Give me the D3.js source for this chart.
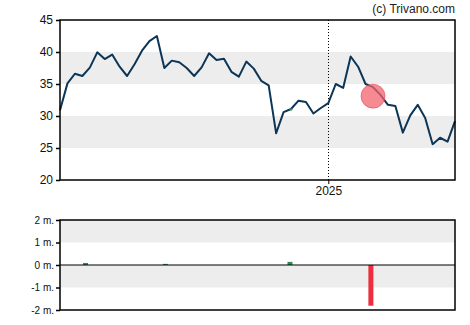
<!DOCTYPE html>
<html><head><meta charset="utf-8">
<script src="https://cdn.jsdelivr.net/npm/d3@7"></script>
<style>body{margin:0;background:#fff}svg{display:block;font-family:"Liberation Sans",Arial,sans-serif}</style>
</head><body><svg id="c" width="470" height="325"></svg>
<script>
const startDate = "2024-04-24";
const prices = [30.9,35.1,36.6,36.25,37.55,39.95,38.9,39.6,37.7,36.25,38.1,40.2,41.7,42.5,37.5,38.65,38.4,37.5,36.25,37.6,39.8,38.75,38.95,36.9,36.15,38.5,37.4,35.5,34.8,27.3,30.6,31.1,32.4,32.2,30.4,31.25,32.0,35.0,34.4,39.3,37.7,35.0,34.5,33.3,31.75,31.55,27.4,30.1,31.75,29.7,25.6,26.6,26.0,29.2];
const priceTicks = [20,25,30,35,40,45];
const priceBands = [[35,40],[25,30]];
const yearMarks = ["2025-01-01"];
const yearLabels = ["2025"];
const markerDate = ["2025-02-12"];
const markerValue = [33.1];
const crossDate = ["2024-11-27"];
const crossValue = [31.0];
const volDates = ["2024-05-18","2024-08-01","2024-11-26","2025-02-10"];
const volValues = [0.09,0.05,0.14,-1.81];
const volTicks = [2,1,0,-1,-2];
const volBands = [[1,2],[-1,0]];

const parse = d3.utcParse("%Y-%m-%d");
const t0 = parse(startDate);
const dates = prices.map((_, i) => d3.utcDay.offset(t0, i * 7));
const svg = d3.select("#c");
const L = 60, R = 455;
const x = d3.scaleUtc().domain([dates[0], dates[dates.length - 1]]).range([L, R]);
const y = d3.scaleLinear().domain([20, 45]).range([180, 20]);
const yv = d3.scaleLinear().domain([-2, 2]).range([310, 220]);

// main bands
svg.append("g").selectAll("rect").data(priceBands).join("rect")
  .attr("x", L).attr("width", R - L)
  .attr("y", d => y(d[1])).attr("height", d => y(d[0]) - y(d[1]))
  .attr("fill", "#ededed");

// year line
svg.append("g").selectAll("line").data(yearMarks).join("line")
  .attr("x1", d => Math.round(x(parse(d))) + 0.5).attr("x2", d => Math.round(x(parse(d))) + 0.5)
  .attr("y1", 20).attr("y2", 180)
  .attr("stroke", "#000").attr("stroke-dasharray", "1,2");

// price line
svg.append("path").datum(prices)
  .attr("fill", "none").attr("stroke", "#0c3556").attr("stroke-width", 2).attr("stroke-linejoin", "round")
  .attr("d", d3.line().x((d, i) => x(dates[i])).y(d => y(d)));

// small green cross
svg.append("g").selectAll("path").data(crossDate).join("path")
  .attr("transform", (d, i) => `translate(${x(parse(d))},${y(crossValue[i])})`)
  .attr("d", "M-1.5,0H1.5M0,-1.5V1.5").attr("stroke", "#3a9a4a").attr("stroke-width", 1);

// marker circle
svg.append("g").selectAll("circle").data(markerDate).join("circle")
  .attr("cx", d => x(parse(d))).attr("cy", (d, i) => y(markerValue[i])).attr("r", 12)
  .attr("fill", "#f2636f").attr("fill-opacity", 0.75).attr("stroke", "#e84a58").attr("stroke-opacity", 0.6);

// frame
svg.append("rect").attr("x", L).attr("y", 20).attr("width", R - L).attr("height", 160)
  .attr("fill", "none").attr("stroke", "#000").attr("stroke-width", 1.5);

// y axis
const ya = svg.append("g").attr("transform", `translate(${L},0)`)
  .call(d3.axisLeft(y).tickValues(priceTicks).tickSize(4).tickPadding(3).tickFormat(d3.format("d")));
ya.select(".domain").remove();
ya.selectAll("line").attr("stroke", "#000").attr("stroke-width", 1.5);
ya.selectAll("text").attr("font-size", 12).attr("fill", "#111").attr("font-family", "Liberation Sans, Arial, sans-serif");

// x axis
const xa = svg.append("g").attr("transform", `translate(0,180)`)
  .call(d3.axisBottom(x).tickValues(yearMarks.map(parse)).tickSize(4).tickPadding(2)
    .tickFormat((d, i) => yearLabels[i]));
xa.select(".domain").remove();
xa.selectAll("line").attr("stroke", "#000");
xa.selectAll("text").attr("font-size", 12).attr("fill", "#111").attr("font-family", "Liberation Sans, Arial, sans-serif");

// copyright
svg.append("text").attr("x", 455).attr("y", 13).attr("text-anchor", "end")
  .attr("font-size", 12).attr("fill", "#222").text("(c) Trivano.com");

// volume bands
svg.append("g").selectAll("rect").data(volBands).join("rect")
  .attr("x", L).attr("width", R - L)
  .attr("y", d => yv(d[1])).attr("height", d => yv(d[0]) - yv(d[1]))
  .attr("fill", "#ededed");

// volume bars
svg.append("g").selectAll("rect").data(volValues).join("rect")
  .attr("x", (d, i) => x(parse(volDates[i])) - 2.5).attr("width", 5)
  .attr("y", d => d >= 0 ? yv(d) : yv(0)).attr("height", d => Math.abs(yv(d) - yv(0)))
  .attr("fill", d => d >= 0 ? "#2e8b4e" : "#ee2e3e");

// zero line
svg.append("line").attr("x1", L).attr("x2", R).attr("y1", yv(0)).attr("y2", yv(0))
  .attr("stroke", "#000").attr("stroke-width", 1.2);

// volume frame
svg.append("rect").attr("x", L).attr("y", 220).attr("width", R - L).attr("height", 90)
  .attr("fill", "none").attr("stroke", "#000").attr("stroke-width", 1.5);

const va = svg.append("g").attr("transform", `translate(${L},0)`)
  .call(d3.axisLeft(yv).tickValues(volTicks).tickSize(4).tickPadding(2).tickFormat(d => d + " m."));
va.select(".domain").remove();
va.selectAll("line").attr("stroke", "#000").attr("stroke-width", 1.5);
va.selectAll("text").attr("font-size", 10).attr("fill", "#111").attr("font-family", "Liberation Sans, Arial, sans-serif");
</script></body></html>
